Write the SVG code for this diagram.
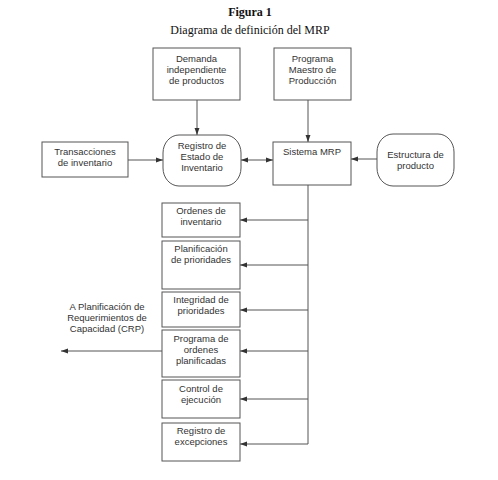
<svg xmlns="http://www.w3.org/2000/svg" width="498" height="480" viewBox="0 0 498 480">
<style>
.box{fill:#fff;stroke:#555;stroke-width:1}
.t{font-family:"Liberation Sans",Arial,sans-serif;font-size:9.5px;fill:#333;text-anchor:middle}
.c{fill:none;stroke:#555;stroke-width:1}
.ti{font-family:"Liberation Serif","Times New Roman",serif;fill:#111;text-anchor:middle}
</style>
<defs>
<marker id="ah" viewBox="0 0 10 10" refX="10" refY="5" markerWidth="7" markerHeight="7" orient="auto-start-reverse" markerUnits="userSpaceOnUse">
<path d="M0,1.5 L10,5 L0,8.5 z" fill="#333"/>
</marker>
</defs>
<rect width="498" height="480" fill="#fff"/>
<text class="ti" x="250" y="16" font-size="12" font-weight="bold">Figura 1</text>
<text class="ti" x="250" y="34" font-size="12">Diagrama de definición del MRP</text>

<g id="connectors">
<line class="c" x1="197" y1="100" x2="197" y2="135" marker-end="url(#ah)"/>
<line class="c" x1="308" y1="100" x2="308" y2="142" marker-end="url(#ah)"/>
<line class="c" x1="128" y1="160" x2="163" y2="160" marker-end="url(#ah)"/>
<line class="c" x1="241" y1="160" x2="273" y2="160" marker-start="url(#ah)" marker-end="url(#ah)"/>
<line class="c" x1="377" y1="159" x2="351" y2="159" marker-end="url(#ah)"/>
<polyline class="c" points="308,185 308,444"/>
<line class="c" x1="308" y1="220" x2="240" y2="220" marker-end="url(#ah)"/>
<line class="c" x1="308" y1="265" x2="240" y2="265" marker-end="url(#ah)"/>
<line class="c" x1="308" y1="310" x2="240" y2="310" marker-end="url(#ah)"/>
<line class="c" x1="308" y1="351" x2="240" y2="351" marker-end="url(#ah)"/>
<line class="c" x1="308" y1="399" x2="240" y2="399" marker-end="url(#ah)"/>
<line class="c" x1="308" y1="444" x2="240" y2="444" marker-end="url(#ah)"/>
<line class="c" x1="162" y1="351" x2="61" y2="351" marker-end="url(#ah)"/>
</g>

<g id="demanda">
<rect class="box" x="153" y="48" width="87" height="52"/>
<text class="t" x="196.5" y="62" font-size="9">Demanda</text>
<text class="t" x="196.5" y="73" font-size="9">independiente</text>
<text class="t" x="196.5" y="84" font-size="9">de productos</text>
</g>
<g id="programa-maestro">
<rect class="box" x="274" y="48" width="77" height="52"/>
<text class="t" x="312.5" y="62">Programa</text>
<text class="t" x="312.5" y="73">Maestro de</text>
<text class="t" x="312.5" y="84">Producción</text>
</g>
<g id="transacciones">
<rect class="box" x="42" y="142" width="86" height="35"/>
<text class="t" x="85" y="155">Transacciones</text>
<text class="t" x="85" y="166">de inventario</text>
</g>
<g id="registro-estado">
<rect class="box" x="163" y="135" width="78" height="51" rx="16" ry="18"/>
<text class="t" x="202" y="149">Registro de</text>
<text class="t" x="202" y="160">Estado de</text>
<text class="t" x="202" y="171">Inventario</text>
</g>
<g id="sistema-mrp">
<rect class="box" x="273" y="142" width="78" height="43"/>
<text class="t" x="312" y="155">Sistema MRP</text>
</g>
<g id="estructura">
<rect class="box" x="377" y="134" width="77" height="52" rx="16" ry="18"/>
<text class="t" x="415.5" y="158">Estructura de</text>
<text class="t" x="415.5" y="169">producto</text>
</g>
<g id="ordenes-inventario">
<rect class="box" x="162" y="203" width="78" height="34"/>
<text class="t" x="201" y="214">Ordenes de</text>
<text class="t" x="201" y="225">inventario</text>
</g>
<g id="planificacion">
<rect class="box" x="162" y="241" width="78" height="48"/>
<text class="t" x="201" y="252">Planificación</text>
<text class="t" x="201" y="263">de prioridades</text>
</g>
<g id="integridad">
<rect class="box" x="162" y="292" width="78" height="35"/>
<text class="t" x="201" y="303">Integridad de</text>
<text class="t" x="201" y="314">prioridades</text>
</g>
<g id="programa-ordenes">
<rect class="box" x="162" y="330" width="78" height="47"/>
<text class="t" x="201" y="342">Programa de</text>
<text class="t" x="201" y="353">ordenes</text>
<text class="t" x="201" y="364">planificadas</text>
</g>
<g id="control">
<rect class="box" x="162" y="380" width="78" height="38"/>
<text class="t" x="201" y="392">Control de</text>
<text class="t" x="201" y="403">ejecución</text>
</g>
<g id="registro-excepciones">
<rect class="box" x="162" y="423" width="78" height="38"/>
<text class="t" x="201" y="434">Registro de</text>
<text class="t" x="201" y="445">excepciones</text>
</g>
<g id="crp">
<text class="t" x="107" y="310">A Planificación de</text>
<text class="t" x="107" y="321">Requerimientos de</text>
<text class="t" x="107" y="332">Capacidad (CRP)</text>
</g>
</svg>
